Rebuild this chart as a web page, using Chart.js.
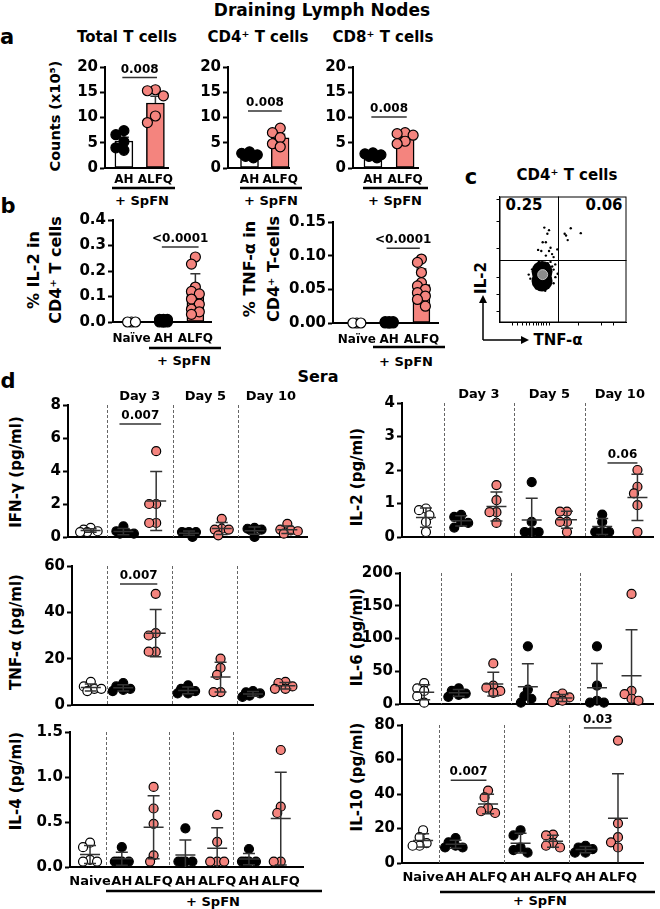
<!DOCTYPE html>
<html>
<head>
<meta charset="utf-8">
<script src="https://cdn.jsdelivr.net/npm/chart.js@4.4.0/dist/chart.umd.min.js"></script>
<style>
  body { margin: 0; width: 660px; height: 909px; position: relative; overflow: hidden; background: #fff;
         font-family: "DejaVu Sans", sans-serif; font-weight: bold; color: #000; }
  .t { position: absolute; white-space: nowrap; transform: translate(-50%, -50%); line-height: 1; }
  .r { transform: translate(-50%, -50%) rotate(-90deg); }
  canvas, svg { position: absolute; }
</style>
</head>
<body>
<script>
const PINK = '#F4847E';

// a: counts (x10^5) in draining lymph nodes
const aCats = ['AH', 'ALFQ'];
const totalAH = [7.4, 6.6, 5.2, 4.0, 3.5];
const totalALFQ = [15.5, 15.3, 14.3, 10.3, 9.0];
const cd4AH = [3.2, 2.9, 2.6, 2.3, 2.0];
const cd4ALFQ = [7.9, 7.0, 6.0, 4.8, 4.2];
const cd8AH = [3.0, 2.8, 2.6, 2.3, 2.0];
const cd8ALFQ = [7.0, 6.8, 6.5, 5.3, 4.8];

// b: % cytokine+ in CD4+ T cells
const bCats = ['Naïve', 'AH', 'ALFQ'];
const il2Naive = [0, 0, 0];
const il2AH = [0.01, 0.01, 0.005, 0.005, 0, 0, 0, 0.005, 0.01, 0];
const il2ALFQ = [0.255, 0.227, 0.137, 0.12, 0.11, 0.09, 0.07, 0.05, 0.04, 0.03];
const tnfNaive = [0, 0, 0];
const tnfAH = [0.002, 0.002, 0.001, 0.001, 0, 0, 0, 0.001, 0.002, 0];
const tnfALFQ = [0.095, 0.09, 0.075, 0.06, 0.055, 0.05, 0.045, 0.04, 0.035, 0.025];

// c: flow plot (axis units 0-100)
const flowGate = [46, 50];
const flowQuad = ['0.25', '0.06'];
const flowBlob = [[33.5, 40.5], [33.5, 33]];
const flowCore = [[34, 38]];
const flowEvents = [
  [35.3, 75.3], [39.0, 73.3], [37.7, 70.4], [36.5, 63.7], [34.0, 63.7], [40.2, 59.3], [30.4, 57.6],
  [32.9, 56.8], [39.0, 56.8], [41.4, 54.3], [36.5, 53.1], [42.6, 51.9], [40.2, 48.1], [43.9, 46.1],
  [45.5, 58.0], [45.8, 38.7], [42.6, 42.0], [51.3, 70.4], [56.1, 74.8], [64.0, 70.9], [53.7, 65.4],
  [52.4, 69.1], [24.3, 34.8], [42.6, 31.1], [41.5, 44.5], [25.7, 42.2], [36, 25.2], [29, 27],
  [44, 36], [23, 38], [31, 48], [38, 47]
];
const flowXTicks = [10, 14, 18, 21, 24, 27, 29, 31, 33, 35, 37, 39, 62, 80, 90];
const flowYTicks = [9, 22, 36, 59, 80, 98];

// d: sera cytokines (pg/ml), groups: Naive, AH d3, ALFQ d3, AH d5, ALFQ d5, AH d10, ALFQ d10
const dCats = ['Naive', 'AH', 'ALFQ', 'AH', 'ALFQ', 'AH', 'ALFQ'];
const dDays = ['Day 3', 'Day 5', 'Day 10'];
const seraIFNg = [[0.55, 0.45, 0.35, 0.3, 0.3], [0.65, 0.35, 0.25, 0.2, 0.2], [5.2, 2.0, 2.0, 0.85, 0.85],
  [0.3, 0.3, 0.3, 0.25, 0.0], [1.1, 0.5, 0.45, 0.45, 0.1], [0.55, 0.5, 0.45, 0.4, 0.0], [0.8, 0.45, 0.4, 0.35, 0.2]];
const seraIL2 = [[0.85, 0.8, 0.65, 0.45, 0.15], [0.66, 0.6, 0.45, 0.42, 0.28], [1.55, 1.1, 0.74, 0.74, 0.42],
  [1.64, 0.45, 0.15, 0.15, 0.15], [0.76, 0.76, 0.45, 0.45, 0.15], [0.67, 0.45, 0.15, 0.15, 0.15], [2.0, 1.5, 1.3, 0.95, 0.15]];
const seraTNF = [[10, 8, 7, 7, 6], [9.5, 8, 7, 6.5, 6], [48, 31, 30, 23, 23],
  [8.5, 7, 6, 5, 5], [20, 16, 13, 5.6, 5.6], [6, 5.5, 5, 4, 3.5], [10, 9.5, 8, 7, 7]];
const seraIL6 = [[32, 24, 20, 12, 2], [24, 20, 16, 14, 11], [62, 28, 25, 20, 17],
  [88, 22, 12, 8, 2], [16, 12, 10, 5, 3], [88, 28, 5, 2, 2], [168, 20, 15, 8, 5]];
const seraIL4 = [[0.27, 0.22, 0.08, 0.06, 0.06], [0.22, 0.06, 0.06, 0.06, 0.06], [0.89, 0.65, 0.48, 0.13, 0.06],
  [0.43, 0.06, 0.06, 0.06, 0.06], [0.58, 0.28, 0.06, 0.06, 0.06], [0.2, 0.06, 0.06, 0.06, 0.06], [1.3, 0.67, 0.6, 0.06, 0.06]];
const seraIL10 = [[19, 15, 11.5, 10, 10], [14.5, 12, 10, 9, 9], [42, 38, 32, 30, 29],
  [19, 16, 9, 7.5, 6], [16.5, 16, 11.5, 10, 9], [10, 9, 8, 6, 6], [71, 23, 15, 12, 9]];

Chart.defaults.font.family = '"DejaVu Sans", sans-serif';
Chart.defaults.font.weight = 'bold';
Chart.defaults.color = '#000';

const mean = a => a.reduce((s, v) => s + v, 0) / a.length;
const sd = a => { const m = mean(a); return Math.sqrt(a.reduce((s, v) => s + (v - m) ** 2, 0) / (a.length - 1)); };

function txt(s, x, y, size, rot) {
  const d = document.createElement('div');
  d.className = 't' + (rot ? ' r' : '');
  d.style.left = x + 'px';
  d.style.top = y + 'px';
  d.style.fontSize = size + 'px';
  d.textContent = s;
  document.body.appendChild(d);
}

// spread points sideways so they don't sit on top of each other (pixel offsets)
function swarm(vals, pxY, gap, maxHalf) {
  const placed = [];
  const offs = [0];
  for (let s = gap / 2; s <= maxHalf + 0.01; s += gap / 2) offs.push(-s, s);
  return vals.map(v => {
    const y = v * pxY;
    let best = 0, bestD = -1;
    for (const o of offs) {
      let dMin = Infinity;
      placed.forEach(p => { dMin = Math.min(dMin, Math.hypot(p[0] - o, p[1] - y)); });
      if (dMin >= gap) { best = o; bestD = Infinity; break; }
      if (dMin > bestD) { bestD = dMin; best = o; }
    }
    placed.push([best, y]);
    return best;
  });
}

function annotPlugin(s) {
  function errBars(chart) {
    const { ctx, chartArea: ca, scales: { x, y } } = chart;
    ctx.save();
    ctx.strokeStyle = '#333';
    ctx.lineWidth = 1.5;
    s.groups.forEach(g => {
      if (!g.err) return;
      const m = mean(g.vals);
      const e = s.sem ? sd(g.vals) / Math.sqrt(g.vals.length) : sd(g.vals);
      const px = x.getPixelForValue(g.x);
      const yTop = y.getPixelForValue(m + e), yMid = y.getPixelForValue(m);
      const yBot = Math.min(y.getPixelForValue(m - e), ca.bottom);
      ctx.beginPath();
      if (s.bars) {
        ctx.moveTo(px, yMid); ctx.lineTo(px, yTop);
        ctx.moveTo(px - 5, yTop); ctx.lineTo(px + 5, yTop);
      } else {
        ctx.moveTo(px, yBot); ctx.lineTo(px, yTop);
        ctx.moveTo(px - 6, yTop); ctx.lineTo(px + 6, yTop);
        if (yBot < ca.bottom - 1) { ctx.moveTo(px - 6, yBot); ctx.lineTo(px + 6, yBot); }
        ctx.moveTo(px - 10, yMid); ctx.lineTo(px + 10, yMid);
      }
      ctx.stroke();
    });
    ctx.restore();
  }
  return {
    id: 'annot',
    beforeDatasetsDraw(chart) {
      if (!s.seps) return;
      const { ctx, chartArea: ca, scales: { x } } = chart;
      ctx.save();
      ctx.strokeStyle = '#666';
      ctx.lineWidth = 1;
      ctx.setLineDash([3, 2]);
      [0.5, 2.5, 4.5].forEach(v => {
        const px = Math.round(x.getPixelForValue(v)) + 0.5;
        ctx.beginPath(); ctx.moveTo(px, ca.top); ctx.lineTo(px, ca.bottom); ctx.stroke();
      });
      ctx.restore();
    },
    afterDatasetDraw(chart, args) {
      if (s.bars && args.index === 0) errBars(chart);
    },
    afterDatasetsDraw(chart) {
      if (!s.bars) errBars(chart);
      const { ctx, chartArea: ca, scales: { x, y } } = chart;
      ctx.save();
      ctx.fillStyle = '#000';
      ctx.textAlign = 'center';
      if (s.days) {
        ctx.font = 'bold 13px "DejaVu Sans"';
        ctx.textBaseline = 'middle';
        dDays.forEach((d, i) => ctx.fillText(d, x.getPixelForValue(1.5 + 2 * i), ca.top - 8));
      }
      (s.sigs || []).forEach(g => {
        const py = y.getPixelForValue(g.y);
        const x1 = x.getPixelForValue(g.x1), x2 = x.getPixelForValue(g.x2);
        ctx.strokeStyle = '#333';
        ctx.lineWidth = 1.5;
        ctx.beginPath(); ctx.moveTo(x1, py); ctx.lineTo(x2, py); ctx.stroke();
        ctx.font = 'bold 12px "DejaVu Sans"';
        ctx.textBaseline = 'bottom';
        ctx.fillText(g.t, (x1 + x2) / 2, py - 2);
      });
      ctx.restore();
    }
  };
}

function makePlot(s) {
  const A = s.area, P = s.pad;
  const cv = document.createElement('canvas');
  cv.width = A.r - A.l + P.l + P.r;
  cv.height = A.b - A.t + P.t + P.b;
  cv.style.left = (A.l - P.l) + 'px';
  cv.style.top = (A.t - P.t) + 'px';
  document.body.appendChild(cv);
  const pxX = (A.r - A.l) / (s.xMax - s.xMin), pxY = (A.b - A.t) / s.yMax;

  const datasets = [];
  const barGroups = s.groups.filter(g => g.bar);
  if (s.bars) {
    datasets.push({
      type: 'bar', order: 10,
      data: barGroups.map(g => ({ x: g.x, y: mean(g.vals) })),
      backgroundColor: barGroups.map(g => g.bar),
      borderColor: '#000', borderWidth: 1.5, borderSkipped: false,
      barThickness: s.barW
    });
  }
  s.groups.forEach(g => {
    const offs = swarm(g.vals, pxY, s.gap, s.maxHalf);
    datasets.push({
      type: 'scatter', order: 0, clip: false,
      data: g.vals.map((v, i) => ({ x: g.x + offs[i] / pxX, y: v })),
      pointRadius: s.r, pointBackgroundColor: g.fill,
      pointBorderColor: '#000', pointBorderWidth: 1.2
    });
  });

  new Chart(cv, {
    type: 'scatter',
    data: { datasets },
    options: {
      responsive: false, animation: false, events: [],
      layout: { padding: { left: 0, top: P.t, right: P.r, bottom: 0 } },
      plugins: { legend: { display: false }, tooltip: { enabled: false } },
      scales: {
        x: {
          type: 'linear', min: s.xMin, max: s.xMax, offset: false,
          grid: { display: false, drawTicks: false },
          border: { color: '#000', width: 2 },
          ticks: {
            display: !!s.xLabels, autoSkip: false, maxRotation: 0, padding: s.xPad || 5,
            font: { size: s.xFont || 12, weight: 'bold' },
            callback: v => (s.xLabels ? s.xLabels[v] : '')
          },
          afterBuildTicks: sc => { if (s.xLabels) sc.ticks = s.xLabels.map((_, i) => ({ value: i })); },
          afterFit: sc => { sc.height = P.b; }
        },
        y: {
          min: 0, max: s.yMax,
          grid: { drawOnChartArea: false, drawTicks: true, tickLength: 5, tickWidth: 2, color: '#000' },
          border: { color: '#000', width: 2 },
          ticks: {
            stepSize: s.yStep, padding: 2,
            font: { size: s.yFont, weight: 'bold' },
            callback: v => (s.yFmt ? Number(v).toFixed(s.yFmt) : v)
          },
          afterFit: sc => { sc.width = P.l; }
        }
      }
    },
    plugins: [annotPlugin(s)]
  });
}

function makeFlow() {
  const A = { l: 497, r: 633, t: 190, b: 325 }, P = { l: 8, t: 4, r: 4, b: 8 };
  const cv = document.createElement('canvas');
  cv.width = A.r - A.l + P.l + P.r;
  cv.height = A.b - A.t + P.t + P.b;
  cv.style.left = (A.l - P.l) + 'px';
  cv.style.top = (A.t - P.t) + 'px';
  document.body.appendChild(cv);
  const pts = arr => arr.map(p => ({ x: p[0], y: p[1] }));
  const axis = (ticksArr, fit) => ({
    type: 'linear', min: 0, max: 100,
    grid: { drawOnChartArea: false, drawTicks: true, tickLength: 3, tickWidth: 1, color: '#000' },
    border: { color: '#000', width: 1 },
    ticks: { display: false },
    afterBuildTicks: sc => { sc.ticks = ticksArr.map(v => ({ value: v })); },
    afterFit: fit
  });
  new Chart(cv, {
    type: 'scatter',
    data: {
      datasets: [
        { order: 2, data: pts(flowBlob), pointRadius: 10.5, pointBackgroundColor: '#000', pointBorderWidth: 0 },
        { order: 1, data: pts(flowCore), pointRadius: 5, pointBackgroundColor: '#8c8c8c', pointBorderColor: '#bdbdbd', pointBorderWidth: 1 },
        { order: 0, data: pts(flowEvents), pointRadius: 1.2, pointBackgroundColor: '#000', pointBorderWidth: 0 }
      ]
    },
    options: {
      responsive: false, animation: false, events: [],
      layout: { padding: { left: 0, top: P.t, right: P.r, bottom: 0 } },
      plugins: { legend: { display: false }, tooltip: { enabled: false } },
      scales: {
        x: axis(flowXTicks, sc => { sc.height = P.b; }),
        y: axis(flowYTicks, sc => { sc.width = P.l; })
      }
    },
    plugins: [{
      id: 'box',
      afterDatasetsDraw(chart) {
        const { ctx, chartArea: ca, scales: { x, y } } = chart;
        ctx.save();
        ctx.strokeStyle = '#000';
        ctx.lineWidth = 1;
        ctx.strokeRect(ca.left + 0.5, ca.top + 0.5, ca.right - ca.left - 1, ca.bottom - ca.top - 1);
        const gx = Math.round(x.getPixelForValue(flowGate[0])) + 0.5;
        const gy = Math.round(y.getPixelForValue(flowGate[1])) + 0.5;
        ctx.beginPath();
        ctx.moveTo(gx, ca.top); ctx.lineTo(gx, ca.bottom);
        ctx.moveTo(ca.left, gy); ctx.lineTo(ca.right, gy);
        ctx.stroke();
        ctx.restore();
      }
    }]
  });
}

const dFill = i => (i === 0 ? '#fff' : i % 2 ? '#000' : PINK);
const dGroups = arr => arr.map((vals, i) => ({ x: i, vals, fill: dFill(i), err: true }));

// ---- texts ----
txt('Draining Lymph Nodes', 322, 10, 17);
txt('a', 7, 37, 21);
txt('Total T cells', 127, 37, 15);
txt('CD4⁺ T cells', 258, 37, 15);
txt('CD8⁺ T cells', 383, 37, 15);
txt('Counts (x10⁵)', 55, 116, 14.5, true);
txt('b', 8, 206, 21);
txt('% IL-2 in', 34, 270, 16, true);
txt('CD4⁺ T cells', 56, 270, 16, true);
txt('% TNF-α in', 250, 269, 16, true);
txt('CD4⁺ T-cells', 274, 269, 16, true);
txt('c', 471, 177, 21);
txt('CD4⁺ T cells', 567, 175, 15);
txt(flowQuad[0], 524, 205, 15);
txt(flowQuad[1], 604, 205, 15);
txt('IL-2', 481, 278, 15, true);
txt('TNF-α', 558, 340, 15);
txt('d', 8, 381, 21);
txt('Sera', 318, 377, 16);
txt('IFN-γ (pg/ml)', 16, 472, 15, true);
txt('IL-2 (pg/ml)', 357, 477, 15, true);
txt('TNF-α (pg/ml)', 16, 632, 15, true);
txt('IL-6 (pg/ml)', 357, 637, 15, true);
txt('IL-4 (pg/ml)', 16, 781, 15, true);
txt('IL-10 (pg/ml)', 357, 777, 15, true);
[[142, 200], [271, 200], [395, 200], [184, 360], [406, 361], [213, 901], [540, 900]]
  .forEach(p => txt('+ SpFN', p[0], p[1], 13));

// underlines and flow arrows
const svg = document.createElementNS('http://www.w3.org/2000/svg', 'svg');
svg.setAttribute('width', 660);
svg.setAttribute('height', 909);
svg.style.left = '0px';
svg.style.top = '0px';
svg.innerHTML = [[112, 175, 188], [240, 302, 188], [363, 428, 188], [149, 221, 348], [373, 445, 347], [106, 322, 891], [440, 655, 892]]
  .map(l => `<line x1="${l[0]}" x2="${l[1]}" y1="${l[2]}" y2="${l[2]}" stroke="#000" stroke-width="2.5"/>`).join('') +
  '<path d="M483 340 V302 M483 340 H522" stroke="#000" stroke-width="1.5" fill="none"/>' +
  '<path d="M479 303 L483 295 L487 303 Z M521 336 L529 340 L521 344 Z" fill="#000"/>';
document.body.appendChild(svg);

// ---- panel a ----
const aPad = { l: 42, t: 40, r: 14, b: 30 };
const aSpec = (l, r, xMin, xMax, ah, alfq, sigY) => ({
  area: { l, r, t: 67, b: 168 }, pad: aPad, xMin, xMax, yMax: 20, yStep: 5, yFont: 15,
  xLabels: aCats, xFont: 12, xPad: 5, bars: true, sem: true, barW: 18, r: 5, gap: 8, maxHalf: 8,
  groups: [{ x: 0, vals: ah, fill: '#000', bar: '#fff', err: true }, { x: 1, vals: alfq, fill: PINK, bar: PINK, err: true }],
  sigs: [{ x1: -0.05, x2: 1.05, y: sigY, t: '0.008' }]
});
makePlot(aSpec(105, 168, -0.6, 1.4, totalAH, totalALFQ, 17.9));
makePlot(aSpec(228, 291, -0.7, 1.3, cd4AH, cd4ALFQ, 11.3));
makePlot(aSpec(353, 418, -0.62, 1.4, cd8AH, cd8ALFQ, 10.1));

// ---- panel b ----
makePlot({
  area: { l: 113, r: 213, t: 220, b: 322 }, pad: { l: 44, t: 30, r: 12, b: 30 },
  xMin: -0.58, xMax: 2.5, yMax: 0.4, yStep: 0.1, yFmt: 1, yFont: 15,
  xLabels: bCats, xFont: 12, xPad: 10, bars: true, barW: 17, r: 5, gap: 8, maxHalf: 6,
  groups: [{ x: 0, vals: il2Naive, fill: '#fff' }, { x: 1, vals: il2AH, fill: '#000' },
           { x: 2, vals: il2ALFQ, fill: PINK, bar: PINK, err: true }],
  sigs: [{ x1: 0.95, x2: 2.1, y: 0.294, t: '<0.0001' }]
});
makePlot({
  area: { l: 333, r: 439, t: 222, b: 323 }, pad: { l: 44, t: 30, r: 12, b: 30 },
  xMin: -0.74, xMax: 2.52, yMax: 0.15, yStep: 0.05, yFmt: 2, yFont: 15,
  xLabels: bCats, xFont: 12, xPad: 10, bars: true, barW: 17, r: 5, gap: 8, maxHalf: 6,
  groups: [{ x: 0, vals: tnfNaive, fill: '#fff' }, { x: 1, vals: tnfAH, fill: '#000' },
           { x: 2, vals: tnfALFQ, fill: PINK, bar: PINK, err: true }],
  sigs: [{ x1: 0.92, x2: 1.95, y: 0.111, t: '<0.0001' }]
});

// ---- panel c ----
makeFlow();

// ---- panel d ----
const dBase = { r: 4.5, gap: 7, maxHalf: 11, seps: true, yFont: 15 };
makePlot(Object.assign({}, dBase, {
  area: { l: 68, r: 307, t: 405, b: 537 }, pad: { l: 30, t: 24, r: 8, b: 12 },
  xMin: -0.69, xMax: 6.6, yMax: 8, yStep: 2, days: true, groups: dGroups(seraIFNg),
  sigs: [{ x1: 0.88, x2: 2.15, y: 6.85, t: '0.007' }]
}));
makePlot(Object.assign({}, dBase, {
  area: { l: 402, r: 655, t: 403, b: 537 }, pad: { l: 30, t: 24, r: 4, b: 12 },
  xMin: -0.68, xMax: 6.45, yMax: 4, yStep: 1, days: true, groups: dGroups(seraIL2),
  sigs: [{ x1: 5.15, x2: 6.0, y: 2.21, t: '0.06' }]
}));
makePlot(Object.assign({}, dBase, {
  area: { l: 72, r: 313, t: 566, b: 705 }, pad: { l: 36, t: 12, r: 8, b: 12 },
  xMin: -0.58, xMax: 6.85, yMax: 60, yStep: 20, groups: dGroups(seraTNF),
  sigs: [{ x1: 0.9, x2: 2.05, y: 52.2, t: '0.007' }]
}));
makePlot(Object.assign({}, dBase, {
  area: { l: 400, r: 655, t: 573, b: 704 }, pad: { l: 44, t: 12, r: 4, b: 12 },
  xMin: -0.7, xMax: 6.63, yMax: 200, yStep: 50, groups: dGroups(seraIL6)
}));
makePlot(Object.assign({}, dBase, {
  area: { l: 70, r: 303, t: 732, b: 867 }, pad: { l: 40, t: 12, r: 8, b: 30 },
  xMin: -0.63, xMax: 6.7, yMax: 1.5, yStep: 0.5, yFmt: 1, groups: dGroups(seraIL4),
  xLabels: dCats, xFont: 13, xPad: 7
}));
makePlot(Object.assign({}, dBase, {
  area: { l: 402, r: 643, t: 725, b: 863 }, pad: { l: 36, t: 14, r: 8, b: 30 },
  xMin: -0.65, xMax: 6.77, yMax: 80, yStep: 20, groups: dGroups(seraIL10),
  xLabels: dCats, xFont: 13, xPad: 7,
  sigs: [{ x1: 0.85, x2: 1.95, y: 48, t: '0.007' }, { x1: 4.95, x2: 5.8, y: 78.3, t: '0.03' }]
}));
</script>
</body>
</html>
